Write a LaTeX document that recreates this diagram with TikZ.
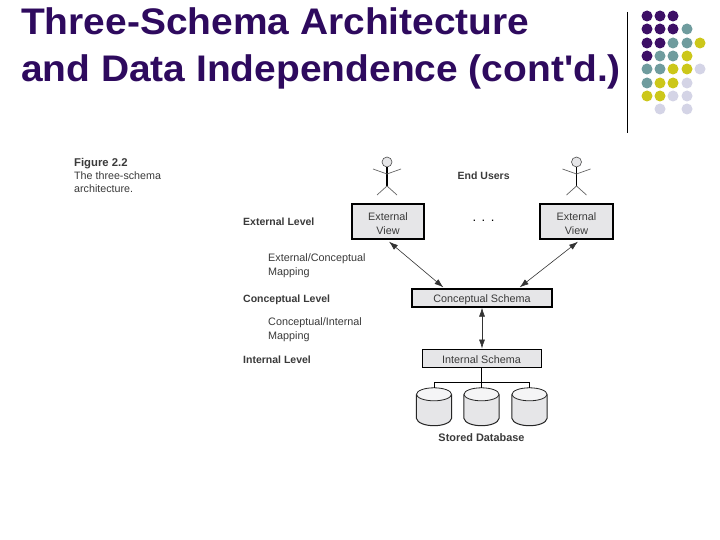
\documentclass[tikz,border=0pt]{standalone}
\usepackage{fontspec}
\setmainfont{Liberation Sans}
\newfontfamily\slidetitlefont[FakeStretch=1.052]{Liberation Sans}
\usetikzlibrary{shapes.geometric,arrows.meta,calc}
\definecolor{dotP}{HTML}{3D0F66}
\definecolor{titlecol}{HTML}{2E0A5E}
\definecolor{dotT}{HTML}{6F9C9E}
\definecolor{dotY}{HTML}{CCC71A}
\definecolor{dotL}{HTML}{D4D4E6}
\definecolor{boxfill}{HTML}{E6E6E8}
\definecolor{figtext}{HTML}{3A3A3A}
\tikzset{
  x=1pt,y=-1pt,
  titletext/.style={anchor=base west,inner sep=0,font=\slidetitlefont\fontsize{37}{40}\selectfont\bfseries,text=titlecol},
  pdot/.style={circle,inner sep=0,minimum size=11pt,fill=#1},
  schemabox/.style={draw=black,line width=1.3pt,fill=boxfill,inner sep=0,align=center,text=figtext,font=\fontsize{10.8}{14}\selectfont},
  thinbox/.style={schemabox,line width=0.9pt},
  boldlabel/.style={anchor=west,inner sep=0,font=\fontsize{10.5}{11}\selectfont\bfseries,text=figtext},
  lightlabel/.style={anchor=north west,inner sep=0,align=left,font=\fontsize{10.8}{14.3}\selectfont,text=figtext},
  conn/.style={draw=black!80,line width=0.6pt,{Latex[length=9pt,width=6pt]}-{Latex[length=9pt,width=6pt]}},
  bus/.style={draw=black,line width=0.8pt},
  dbanchor/.style={rectangle,inner sep=0,minimum width=35pt,minimum height=39pt},
  dbbody/.style={draw=black!85,line width=1pt,fill=boxfill},
  dbtop/.style={draw=black!85,line width=0.8pt,fill=white!60!boxfill},
  stick/.style={draw=black!60,line width=0.7pt},
  head/.style={circle,draw=black!70,fill=boxfill,line width=0.6pt,minimum size=10pt,inner sep=0},
}
\newcommand{\stickman}[2]{%
  \node[head] (#2head) at (#1,162) {};
  \coordinate (#2hip) at (#1,186);
  \coordinate (#2neck) at (#1,174);
  \draw[stick,draw=black,line width=1.2pt] (#2head.south) -- (#2hip);
  \draw[stick] ($(#2neck)+(-14,-5)$) -- (#2neck) -- ($(#2neck)+(14,-5)$);
  \draw[stick] ($(#2hip)+(-10,9)$) -- (#2hip) -- ($(#2hip)+(10,9)$);
}
\newcommand{\dbdrum}[2]{%
  \node[dbanchor] (#1) at (#2,407.5) {};
  \draw[dbbody] ($(#1.north west)+(0,7)$) -- ($(#1.south west)+(0,-9)$)
    .. controls ($(#1.south west)+(2,1)$) and ($(#1.south east)+(-2,1)$) .. ($(#1.south east)+(0,-9)$)
    -- ($(#1.north east)+(0,7)$) -- cycle;
  \draw[dbtop] ($(#1.north)+(0,6.5)$) ellipse [x radius=17.5,y radius=6.5];
}
\begin{document}
\begin{tikzpicture}
\useasboundingbox (0,0) rectangle (720,540);
\fill[white] (0,0) rectangle (720,540);
% title
\node[titletext] (t1) at (21,34.5) {Three-Schema Architecture};
\node[titletext] (t2) at (21,81.5) {and Data Independence (cont'd.)};
% rule
\coordinate (ruleA) at (627.5,12);
\coordinate (ruleB) at (627.5,133);
\draw[black,line width=0.9pt] (ruleA) -- (ruleB);
% dots
\foreach \col/\xx/\yy in {dotP/647/16,dotP/660/16,dotP/673/16,
  dotP/647/29,dotP/660/29,dotP/673/29,dotT/687/29,
  dotP/647/43,dotP/660/43,dotT/673/43,dotT/687/43,dotY/700/43,
  dotP/647/56,dotT/660/56,dotT/673/56,dotY/687/56,
  dotT/647/69,dotT/660/69,dotY/673/69,dotY/687/69,dotL/700/69,
  dotT/647/83,dotY/660/83,dotY/673/83,dotL/687/83,
  dotY/647/96,dotY/660/96,dotL/673/96,dotL/687/96,
  dotL/660/109,dotL/687/109}
  \node[pdot=\col] at (\xx,\yy) {};
% caption
\node[lightlabel,font=\fontsize{10.7}{13}\selectfont] (fig) at (74,158.5) {{\fontsize{11.3}{13}\selectfont\bfseries Figure 2.2}\\The three-schema\\architecture.};
% boxes
\node[schemabox,minimum width=72pt,minimum height=35pt] (ev1) at (388,221.5) {\rule{0pt}{13pt}External\\View};
\node[schemabox,minimum width=73pt,minimum height=35pt] (ev2) at (576.5,221.5) {\rule{0pt}{13pt}External\\View};
\node[schemabox,minimum width=140pt,minimum height=18pt] (cs) at (482,298) {\rule{0pt}{11pt}Conceptual Schema};
\node[thinbox,minimum width=119pt,minimum height=18pt] (is) at (481.5,358) {\rule{0pt}{11pt}Internal Schema};
% labels
\node[boldlabel,yshift=-0.5pt] (eu) at (457.5,175) {End Users};
\node[anchor=center,inner sep=0,font=\fontsize{13}{14}\selectfont,text=black] (dots) at (483.5,221) {.\hspace{5.5pt}.\hspace{5.5pt}.};
\node[boldlabel] (el) at (243,222) {External Level};
\node[boldlabel] (cl) at (243,300) {Conceptual Level};
\node[boldlabel] (il) at (243,360) {Internal Level};
\node[lightlabel] (ecm) at (268,253) {External/Conceptual\\Mapping};
\node[lightlabel] (cim) at (268,317) {Conceptual/Internal\\Mapping};
% users
\stickman{387}{ua}
\stickman{576.5}{ub}
% arrows
\coordinate (csL) at ($(cs.north west)+(32,-1)$);
\coordinate (csR) at ($(cs.north east)+(-33,-1)$);
\draw[conn] ($(ev1.south)+(1,2)$) -- (csL);
\draw[conn] ($(ev2.south)+(1.5,2)$) -- (csR);
\draw[conn] (cs.south) -- (cs.south |- is.north);
% database
\dbdrum{d1}{434}
\dbdrum{d2}{481.5}
\dbdrum{d3}{529.5}
\node[boldlabel,anchor=center,font=\fontsize{10.9}{12}\selectfont\bfseries] (sd) at (481.5,438) {Stored Database};
\coordinate (busC) at (is.south |- 0,382);
\draw[bus] (is.south) -- (d2.north);
\draw[bus] (d1.north) -- (d1.north |- busC) -- (d3.north |- busC) -- (d3.north);
\end{tikzpicture}
\end{document}
